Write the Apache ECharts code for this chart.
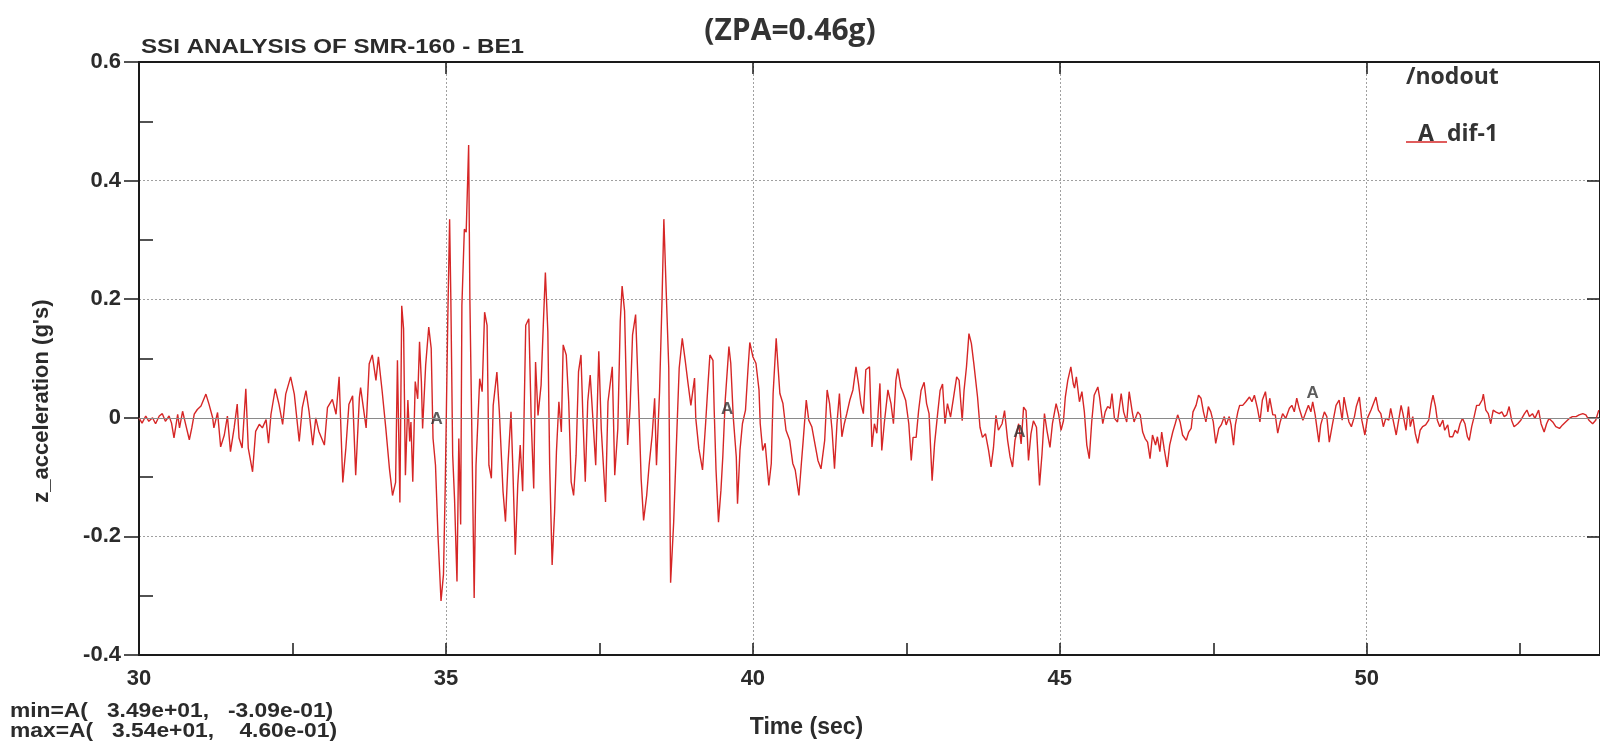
<!DOCTYPE html>
<html><head><meta charset="utf-8">
<script src="https://cdn.jsdelivr.net/npm/echarts@6/dist/echarts.min.js"></script>
<style>html,body{margin:0;padding:0;background:#fff}#c{width:1600px;height:755px}</style>
</head><body><div id="c"></div>
<script>
// Time (sec)
const time = [
30.00,30.05,30.11,30.16,30.22,30.27,30.33,30.38,30.43,30.49,
30.53,30.57,30.63,30.66,30.71,30.76,30.82,30.86,30.90,30.95,
31.01,31.09,31.14,31.20,31.22,31.28,31.33,31.39,31.44,31.49,
31.55,31.60,31.63,31.68,31.74,31.78,31.85,31.90,31.96,32.01,
32.07,32.11,32.15,32.22,32.28,32.34,32.39,32.47,32.53,32.61,
32.66,32.72,32.77,32.83,32.88,32.93,33.02,33.07,33.15,33.21,
33.26,33.32,33.37,33.42,33.48,33.53,33.59,33.61,33.70,33.75,
33.80,33.86,33.90,33.96,34.02,34.08,34.13,34.18,34.21,34.25,
34.28,34.31,34.34,34.38,34.41,34.43,34.46,34.50,34.54,34.57,
34.60,34.62,34.67,34.72,34.76,34.79,34.83,34.87,34.92,34.96,
34.99,35.03,35.06,35.08,35.11,35.14,35.18,35.21,35.24,35.26,
35.30,35.33,35.37,35.39,35.43,35.46,35.49,35.55,35.59,35.63,
35.67,35.70,35.74,35.77,35.83,35.87,35.93,35.97,36.01,36.06,
36.09,36.13,36.17,36.21,36.25,36.30,36.35,36.39,36.43,36.46,
36.50,36.55,36.59,36.62,36.66,36.69,36.73,36.77,36.80,36.84,
36.88,36.91,36.96,37.00,37.04,37.08,37.12,37.16,37.20,37.23,
37.27,37.31,37.35,37.39,37.44,37.49,37.53,37.60,37.64,37.71,
37.75,37.80,37.84,37.87,37.91,37.96,38.00,38.04,38.09,38.14,
38.18,38.22,38.27,38.31,38.36,38.40,38.43,38.48,38.52,38.55,
38.59,38.63,38.66,38.71,38.76,38.80,38.85,38.90,38.94,38.99,
39.05,39.07,39.12,39.18,39.23,39.27,39.30,39.35,39.37,39.40,
39.44,39.48,39.51,39.55,39.61,39.64,39.68,39.73,39.75,39.79,
39.83,39.88,39.92,39.95,40.00,40.05,40.10,40.12,40.16,40.20,
40.26,40.30,40.33,40.38,40.41,40.44,40.49,40.54,40.60,40.65,
40.69,40.75,40.79,40.82,40.87,40.91,40.96,41.02,41.06,41.11,
41.17,41.21,41.25,41.29,41.33,41.37,41.41,41.45,41.49,41.53,
41.58,41.63,41.68,41.72,41.76,41.80,41.84,41.90,41.94,41.98,
42.02,42.07,42.10,42.14,42.20,42.25,42.29,42.33,42.36,42.41,
42.45,42.49,42.54,42.58,42.61,42.66,42.70,42.74,42.79,42.83,
42.87,42.92,42.96,43.01,43.05,43.09,43.13,43.17,43.22,43.27,
43.32,43.36,43.41,43.44,43.48,43.52,43.56,43.60,43.63,43.66,
43.70,43.74,43.79,43.84,43.88,43.92,43.96,44.00,44.06,44.10,
44.15,44.19,44.23,44.27,44.33,44.37,44.41,44.45,44.49,44.53,
44.57,44.62,44.67,44.71,44.75,44.79,44.84,44.88,44.94,44.98,
45.02,45.06,45.09,45.13,45.18,45.22,45.24,45.27,45.32,45.36,
45.40,45.44,45.48,45.52,45.56,45.62,45.65,45.70,45.74,45.78,
45.82,45.85,45.89,45.94,46.00,46.04,46.09,46.13,46.18,46.21,
46.27,46.31,46.35,46.39,46.43,46.47,46.51,46.56,46.59,46.63,
46.66,46.70,46.75,46.79,46.84,46.88,46.92,46.96,47.00,47.06,
47.10,47.14,47.17,47.22,47.26,47.30,47.34,47.38,47.42,47.46,
47.50,47.54,47.59,47.63,47.68,47.71,47.76,47.79,47.83,47.86,
47.90,47.93,47.98,48.03,48.09,48.13,48.17,48.22,48.26,48.30,
48.35,48.39,48.42,48.47,48.51,48.55,48.59,48.63,48.68,48.74,
48.78,48.82,48.86,48.90,48.96,49.01,49.05,49.09,49.12,49.16,
49.22,49.25,49.31,49.35,49.39,49.44,49.50,49.55,49.60,49.63,
49.67,49.71,49.75,49.80,49.83,49.88,49.92,49.97,50.01,50.07,
50.11,50.15,50.19,50.23,50.27,50.31,50.36,50.39,50.43,50.48,
50.52,50.56,50.59,50.64,50.68,50.71,50.75,50.79,50.83,50.87,
50.91,50.96,51.01,51.05,51.08,51.12,51.15,51.19,51.24,51.27,
51.32,51.35,51.40,51.44,51.48,51.52,51.56,51.60,51.64,51.67,
51.71,51.75,51.79,51.83,51.88,51.90,51.94,51.98,52.02,52.06,
52.10,52.16,52.20,52.24,52.28,52.32,52.36,52.40,52.46,52.51,
52.57,52.61,52.65,52.70,52.74,52.80,52.84,52.89,52.93,52.97,
53.03,53.08,53.14,53.19,53.24,53.30,53.35,53.41,53.46,53.52,
53.57,53.62,53.68,53.73,53.78
];
// z_acceleration (g's)
const accel = [
0.000,-0.009,0.003,-0.006,0.000,-0.010,0.003,0.007,-0.006,0.003,
-0.009,-0.034,0.006,-0.017,0.011,-0.011,-0.037,-0.017,0.006,0.014,
0.020,0.040,0.023,0.000,-0.017,0.009,-0.049,-0.029,0.003,-0.057,
-0.017,0.023,-0.034,-0.051,0.049,-0.051,-0.091,-0.023,-0.011,-0.017,
-0.003,-0.043,0.006,0.049,0.023,-0.011,0.040,0.069,0.040,-0.040,
0.017,0.046,0.011,-0.046,0.000,-0.023,-0.046,0.017,0.031,0.006,
0.069,-0.109,-0.051,0.023,0.037,-0.097,0.034,0.051,-0.017,0.091,
0.106,0.063,0.103,0.046,-0.017,-0.086,-0.131,-0.109,0.097,-0.143,
0.189,0.150,-0.097,0.030,-0.040,-0.007,-0.108,0.061,0.032,0.128,
0.061,-0.018,0.089,0.153,0.117,-0.035,-0.080,-0.197,-0.309,-0.264,
-0.108,0.167,0.335,0.201,-0.063,-0.136,-0.276,-0.035,-0.180,0.189,
0.318,0.313,0.460,0.201,-0.080,-0.304,-0.080,0.066,0.044,0.178,
0.156,-0.080,-0.102,0.021,0.077,0.010,-0.124,-0.175,-0.080,0.010,
-0.085,-0.231,-0.113,-0.046,-0.124,0.156,0.167,-0.007,-0.119,0.094,
0.004,0.055,0.167,0.245,0.145,-0.080,-0.248,-0.159,-0.058,0.027,
-0.024,0.123,0.106,0.027,-0.108,-0.131,-0.063,0.078,0.106,0.005,
-0.108,0.027,0.072,0.005,-0.080,0.112,-0.018,-0.142,0.027,0.086,
-0.097,-0.018,0.163,0.222,0.180,-0.046,0.016,0.140,0.174,0.027,
-0.103,-0.173,-0.131,-0.080,-0.029,0.033,-0.080,0.044,0.197,0.335,
0.208,0.084,-0.278,-0.176,-0.029,0.084,0.134,0.095,0.061,0.021,
0.067,-0.001,-0.052,-0.088,-0.010,0.058,0.106,0.097,0.013,-0.088,
-0.176,-0.122,-0.066,0.030,0.120,0.092,0.002,-0.066,-0.145,-0.055,
-0.010,0.013,0.081,0.127,0.103,0.092,0.047,-0.010,-0.055,-0.043,
-0.114,-0.077,0.041,0.134,0.086,0.041,0.024,-0.021,-0.038,-0.077,
-0.088,-0.131,-0.077,-0.038,0.030,-0.004,-0.015,-0.049,-0.072,-0.086,
-0.038,0.047,0.024,-0.021,-0.086,-0.010,0.041,-0.032,-0.010,0.007,
0.030,0.047,0.086,0.058,0.024,0.007,0.081,0.086,-0.049,-0.010,
-0.026,0.058,-0.055,-0.010,0.047,0.024,-0.010,0.063,0.083,0.052,
0.041,0.029,-0.010,-0.072,-0.033,-0.033,0.012,0.046,0.060,0.024,
0.007,-0.106,-0.044,0.007,0.046,0.057,-0.010,0.024,0.001,0.035,
0.069,0.063,-0.005,0.046,0.086,0.142,0.125,0.091,0.091,0.035,
-0.016,-0.033,-0.027,-0.055,-0.083,-0.050,0.004,-0.021,-0.010,0.012,
-0.038,-0.066,-0.083,-0.038,-0.010,-0.044,0.018,0.012,-0.072,-0.027,
-0.005,-0.016,-0.114,-0.061,0.007,-0.021,-0.050,-0.010,0.024,0.007,
-0.021,-0.005,0.035,0.063,0.086,0.057,0.050,0.069,0.027,0.044,
0.010,-0.046,-0.069,-0.007,0.038,0.052,0.033,-0.010,0.010,0.019,
0.016,0.041,-0.001,-0.007,0.041,0.010,-0.007,0.044,0.010,-0.007,
0.010,0.005,-0.024,-0.035,-0.041,-0.069,-0.029,-0.046,-0.032,-0.057,
-0.024,-0.052,-0.083,-0.046,-0.024,-0.010,0.005,-0.007,-0.029,-0.038,
-0.024,-0.018,0.010,0.021,0.038,0.033,0.010,-0.007,0.019,0.010,
-0.007,-0.043,-0.018,-0.012,0.002,-0.012,0.002,-0.012,-0.046,-0.012,
0.010,0.021,0.021,0.027,0.035,0.027,0.038,0.016,-0.007,0.030,
0.044,0.010,0.033,0.005,0.005,-0.026,-0.007,0.007,-0.001,0.016,
0.021,0.010,0.033,0.016,-0.004,0.010,0.021,0.010,0.027,0.005,
-0.041,-0.012,0.010,0.002,-0.041,-0.012,0.021,0.030,-0.004,0.035,
0.013,-0.007,-0.015,0.002,0.019,0.035,-0.004,-0.029,-0.001,0.013,
0.024,0.035,0.013,0.007,-0.015,-0.001,-0.004,0.016,-0.004,-0.029,
-0.004,0.021,0.007,-0.021,0.019,-0.015,0.002,-0.026,-0.043,-0.021,
-0.015,-0.012,-0.004,0.024,0.038,0.019,-0.004,-0.015,-0.004,-0.021,
-0.012,-0.032,-0.032,-0.021,-0.026,-0.010,-0.001,-0.010,-0.032,-0.038,
-0.015,0.002,0.021,0.021,0.030,0.040,0.013,0.007,-0.010,0.013,
0.010,0.007,0.010,0.002,0.005,0.019,-0.004,-0.015,-0.010,-0.004,
0.007,0.013,0.002,0.007,-0.001,0.013,-0.010,-0.024,-0.010,-0.001,
-0.007,-0.015,-0.018,-0.012,-0.007,-0.001,0.002,0.002,0.005,0.007,
0.005,-0.004,-0.010,-0.004,0.013
];
// curve identifier markers ("A") placed along the curve
const markerTime = [34.85, 39.58, 44.34, 49.12];
const markerAccel = [-0.002, 0.015, -0.024, 0.042];
// axis ticks / labels
const xLabelValues = [30, 35, 40, 45, 50];
const xTickValues = [32.5, 35, 37.5, 40, 42.5, 45, 47.5, 50, 52.5];
const xTopTickValues = [35, 40, 45, 50];
const yMinorTickValues = [-0.3, -0.1, 0.1, 0.3, 0.5];
const yRightTickValues = [-0.2, 0, 0.2, 0.4];

const FONT = '"Liberation Sans", Arial, sans-serif';
const OPEN = '"Open Sans", "Liberation Sans", sans-serif';
const INK = '#2b2b2b';
const RED = '#d62626';
const AXIS = '#1a1a1a';

const chart = echarts.init(document.getElementById('c'), null, {renderer: 'canvas'});
const lineData = time.map((t, i) => [t, accel[i]]);
const markerData = markerTime.map((t, i) => [t, markerAccel[i]]);

chart.setOption({
  animation: false,
  backgroundColor: '#ffffff',
  grid: {left: 139, right: 0, top: 62, bottom: 100, containLabel: false},
  xAxis: [
    {
      type: 'value', min: 30, max: 53.8, interval: 2.5, position: 'bottom',
      name: 'Time (sec)', nameLocation: 'middle', nameGap: 61,
      nameTextStyle: {fontFamily: FONT, fontWeight: 'bold', fontSize: 23, color: INK, padding: [0, 126, 0, 0]},
      axisLine: {show: true, onZero: false, lineStyle: {color: AXIS, width: 2}},
      axisTick: {show: true, inside: true, length: 12, customValues: xTickValues, lineStyle: {color: AXIS, width: 1.5}},
      axisLabel: {show: true, customValues: xLabelValues, margin: 13, fontFamily: FONT, fontWeight: 'bold', fontSize: 22, color: INK},
      splitLine: {show: false}
    },
    {
      type: 'value', min: 30, max: 53.8, interval: 5, position: 'top',
      axisLine: {show: true, onZero: false, lineStyle: {color: AXIS, width: 2}},
      axisTick: {show: true, inside: true, length: 12, customValues: xTopTickValues, lineStyle: {color: AXIS, width: 1.5}},
      axisLabel: {show: false},
      splitLine: {show: true, lineStyle: {color: '#a0a0a0', type: [2, 2], width: 1}}
    }
  ],
  yAxis: [
    {
      type: 'value', min: -0.4, max: 0.6, interval: 0.2, position: 'left',
      name: "z_acceleration (g's)", nameLocation: 'middle', nameRotate: 90, nameGap: 86,
      nameTextStyle: {fontFamily: FONT, fontWeight: 'bold', fontSize: 22, color: INK, padding: [0, 85, 0, 0]},
      axisLine: {show: true, onZero: false, lineStyle: {color: AXIS, width: 2}},
      axisTick: {show: true, inside: false, length: 15, lineStyle: {color: AXIS, width: 1.5}},
      axisLabel: {show: true, margin: 18, fontFamily: FONT, fontWeight: 'bold', fontSize: 22, color: INK},
      splitLine: {show: true, lineStyle: {color: '#a0a0a0', type: [2, 2], width: 1}}
    },
    {
      type: 'value', min: -0.4, max: 0.6, interval: 0.2, position: 'left',
      axisLine: {show: false, onZero: false},
      axisTick: {show: true, inside: true, length: 14, customValues: yMinorTickValues, lineStyle: {color: AXIS, width: 1.5}},
      axisLabel: {show: false},
      splitLine: {show: false}
    },
    {
      type: 'value', min: -0.4, max: 0.6, interval: 0.2, position: 'right',
      axisLine: {show: true, onZero: false, lineStyle: {color: AXIS, width: 2}},
      axisTick: {show: true, inside: true, length: 13, customValues: yRightTickValues, lineStyle: {color: AXIS, width: 1.5}},
      axisLabel: {show: false},
      splitLine: {show: false}
    }
  ],
  series: [
    {
      name: 'dif-1', type: 'line', xAxisIndex: 0, yAxisIndex: 0,
      data: lineData, showSymbol: false, symbol: 'none', smooth: false,
      lineStyle: {color: RED, width: 1.4},
      z: 3,
      markLine: {
        silent: true, symbol: 'none', label: {show: false},
        lineStyle: {color: '#8a8a8a', type: 'solid', width: 1},
        data: [{yAxis: 0}]
      }
    },
    {
      name: 'A', type: 'scatter', xAxisIndex: 0, yAxisIndex: 0,
      data: markerData, symbol: 'circle', symbolSize: 1,
      itemStyle: {color: 'rgba(0,0,0,0)'},
      label: {show: true, position: 'inside', formatter: 'A', fontFamily: FONT, fontWeight: 'bold', fontSize: 17, color: '#333'},
      z: 4
    }
  ],
  graphic: [
    {type: 'text', x: 141, y: 47, scaleX: 1.15, style: {text: 'SSI ANALYSIS OF SMR-160 - BE1', fontFamily: FONT, fontWeight: 'bold', fontSize: 21, fill: INK, verticalAlign: 'middle'}},
    {type: 'text', x: 790, y: 31, style: {text: '(ZPA=0.46g)', fontFamily: OPEN, fontWeight: 'bold', fontSize: 30, fill: '#333', align: 'center', verticalAlign: 'middle'}},
    {type: 'text', x: 1406, y: 77, style: {text: '/nodout', fontFamily: OPEN, fontWeight: 'bold', fontSize: 23, fill: '#333', verticalAlign: 'middle'}},
    {type: 'line', shape: {x1: 1406, y1: 142, x2: 1447, y2: 142}, style: {stroke: RED, lineWidth: 1.5}},
    {type: 'text', x: 1426, y: 134, style: {text: 'A', fontFamily: OPEN, fontWeight: 'bold', fontSize: 23, fill: '#333', align: 'center', verticalAlign: 'middle'}},
    {type: 'text', x: 1447, y: 134, style: {text: 'dif-1', fontFamily: OPEN, fontWeight: 'bold', fontSize: 23, fill: '#333', verticalAlign: 'middle'}},
    {type: 'text', x: 10, y: 701, scaleX: 1.14, style: {text: 'min=A(   3.49e+01,   -3.09e-01)\nmax=A(   3.54e+01,    4.60e-01)', fontFamily: FONT, fontWeight: 'bold', fontSize: 20, lineHeight: 20, fill: INK}}
  ]
});
</script>
</body></html>
